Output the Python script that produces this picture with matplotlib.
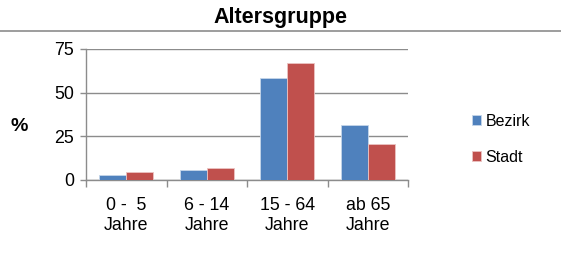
import numpy as np
import matplotlib.pyplot as plt
from matplotlib.lines import Line2D

plt.rcParams['font.family'] = ['Liberation Sans', 'DejaVu Sans']

categories = ['0 -  5\nJahre', '6 - 14\nJahre', '15 - 64\nJahre', 'ab 65\nJahre']
bezirk = [3.1, 5.5, 58.6, 31.5]
stadt = [4.6, 6.9, 66.9, 20.4]
yticks = [0, 25, 50, 75]

blue = '#4F81BD'
red = '#C0504D'
grey = '#8C8C8C'

fig = plt.figure(figsize=(5.61, 2.68), dpi=100)
ax = fig.add_axes([0.1533, 0.3284, 0.574, 0.4888])

x = np.arange(len(categories))
w = 0.333
ax.bar(x - w / 2, bezirk, w, color=blue, edgecolor='#C6D6EA', linewidth=0.6, label='Bezirk', zorder=3)
ax.bar(x + w / 2, stadt, w, color=red, edgecolor='#EBC3C2', linewidth=0.6, label='Stadt', zorder=3)

ax.set_xlim(-0.5, len(categories) - 0.5)
ax.set_ylim(0, 75)
ax.set_yticks(yticks)
ax.set_yticklabels([str(v) for v in yticks], fontsize=12.75)
ax.yaxis.grid(True, color=grey, linewidth=1)
ax.set_axisbelow(True)

# labels at centres, tick marks at the category borders
ax.set_xticks(x)
ax.set_xticklabels(categories, fontsize=12.75, linespacing=1.22)
ax.set_xticks(np.arange(len(categories) + 1) - 0.5, minor=True)
ax.tick_params(axis='x', which='major', length=0, pad=12)
ax.tick_params(axis='x', which='minor', length=5, color=grey, width=1)
ax.tick_params(axis='y', length=4, color=grey, width=1, pad=4.5)

for s in ['top', 'right']:
    ax.spines[s].set_visible(False)
for s in ['left', 'bottom']:
    ax.spines[s].set_color(grey)
    ax.spines[s].set_linewidth(1)

fig.text(0.034, 0.527, '%', fontsize=14, fontweight='bold', ha='center', va='center')
fig.text(0.5, 0.935, 'Altersgruppe', fontsize=15.5, fontweight='bold', ha='center', va='center')
fig.add_artist(Line2D([0, 1], [0.884, 0.884], color=grey, linewidth=1.2, transform=fig.transFigure))

fig.legend(loc='center left', bbox_to_anchor=(0.841, 0.48), frameon=False, fontsize=11.5,
           handlelength=0.6, handleheight=0.6, handletextpad=0.25, labelspacing=1.3,
           borderpad=0, borderaxespad=0)

fig.savefig('out.png', dpi=100)
